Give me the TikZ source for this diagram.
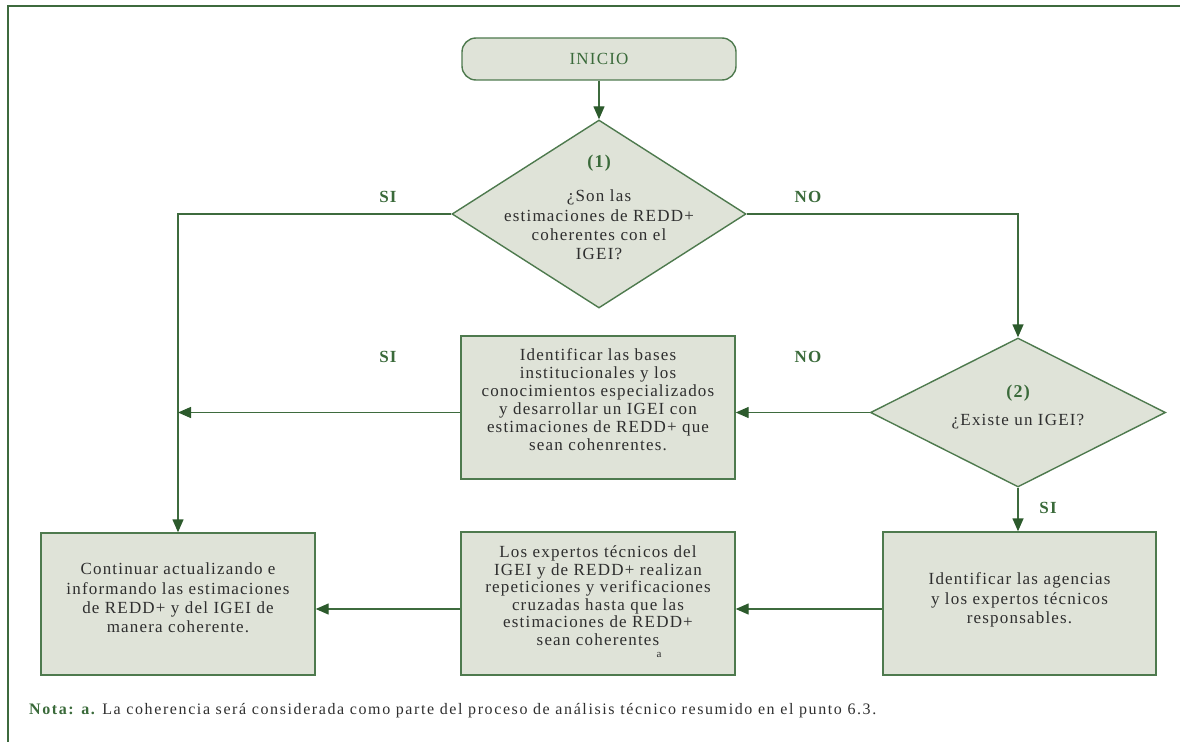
\documentclass[tikz,border=0pt]{standalone}
\usepackage{fontspec}
\setmainfont{Liberation Serif}[LetterSpace=7]
\usetikzlibrary{arrows.meta,shapes.geometric}
\definecolor{boxfill}{HTML}{DFE3D8}
\definecolor{boxline}{HTML}{4E7A4E}
\definecolor{conn}{HTML}{3E6B3E}
\definecolor{tipc}{HTML}{2C5A2C}
\definecolor{lab}{HTML}{3A6A3A}
\definecolor{txt}{HTML}{2E2E2E}
\definecolor{framec}{HTML}{3E6A3E}
\begin{document}
\begin{tikzpicture}[x=1bp,y=-1bp,
  procbox/.style={draw=boxline, fill=boxfill, line width=1.4bp, rectangle, inner sep=0pt, minimum width=274bp, minimum height=143bp},
  startbox/.style={draw=boxline, fill=boxfill, line width=1.4bp, rectangle, rounded corners=14bp, inner sep=0pt, minimum width=274bp, minimum height=42bp, text=lab, font=\fontsize{17bp}{19.4bp}\selectfont},
  dia/.style={draw=boxline, fill=boxfill, line width=1.4bp, diamond, inner sep=0pt},
  bodytxt/.style={text=txt, align=center, inner sep=0pt, font=\fontsize{17bp}{19.4bp}\selectfont},
  numtxt/.style={text=lab, inner sep=0pt, font=\fontsize{18bp}{20bp}\selectfont\bfseries},
  yesno/.style={text=lab, inner sep=0pt, font=\fontsize{17bp}{19bp}\selectfont\bfseries},
  arr/.style={draw=conn, line width=1.4bp, -{Triangle[length=13bp,width=11bp,color=tipc,fill=tipc]}},
  plain/.style={draw=conn, line width=1.4bp}
]
\useasboundingbox (0,0) rectangle (1180,742);
% frame
\draw[framec, line width=2.4bp] (8,742) -- (8,6) -- (1180,6);

% nodes
\node[startbox] (inicio) at (599,59) {INICIO};
\node[dia, minimum width=294bp, minimum height=188bp] (d1) at (599,214) {};
\node[numtxt] (d1num) at (599,163) {(1)};
\node[bodytxt] (d1txt) at (599,225) {¿Son las\\estimaciones de REDD+\\coherentes con el\\IGEI?};

\node[dia, minimum width=295bp, minimum height=149bp] (d2) at (1018,412.5) {};
\node[numtxt] (d2num) at (1018,393) {(2)};
\node[bodytxt] (d2txt) at (1018,422) {¿Existe un IGEI?};

\node[procbox] (b1) at (598,407.5) {};
\node[bodytxt, font=\fontsize{17bp}{18bp}\selectfont] (b1txt) at (598,400) {Identificar las bases\\institucionales y los\\conocimientos especializados\\y desarrollar un IGEI con\\estimaciones de REDD+ que\\sean cohenrentes.};

\node[procbox, minimum width=273bp] (b3) at (1019.5,603.5) {};
\node[bodytxt] (b3txt) at (1019.5,600) {Identificar las agencias\\y los expertos técnicos\\responsables.};

\node[procbox] (b2) at (598,603.5) {};
\node[bodytxt, font=\fontsize{17bp}{17.5bp}\selectfont] (b2txt) at (598,595.5) {Los expertos técnicos del\\IGEI y de REDD+ realizan\\repeticiones y verificaciones\\cruzadas hasta que las\\estimaciones de REDD+\\sean coherentes};
\node[bodytxt, font=\fontsize{11bp}{12bp}\selectfont] (b2a) at (659,655) {a};

\node[procbox, minimum height=142bp] (b4) at (178,604) {};
\node[bodytxt] (b4txt) at (178,598) {Continuar actualizando e\\informando las estimaciones\\de REDD+ y del IGEI de\\manera coherente.};

% labels
\node[yesno] (si1) at (388,197) {SI};
\node[yesno] (no1) at (808,197) {NO};
\node[yesno] (si2) at (388,357) {SI};
\node[yesno] (no2) at (808,357) {NO};
\node[yesno] (si3) at (1048,508) {SI};

% connectors
\coordinate (c3) at (1018,609);
\draw[arr] (inicio.south) -- (d1.north);
\draw[arr] (d1.west) -| (b4.north);
\draw[arr] (d1.east) -| (d2.north);
\draw[arr] (d2.west) -- (d2.west -| b1.east);
\draw[arr] (d2.west -| b1.west) -- (d2.west -| b4.north);
\draw[arr] (d2.south) -- (d2.south |- b3.north);
\draw[arr] (c3 -| b3.west) -- (c3 -| b2.east);
\draw[arr] (c3 -| b2.west) -- (c3 -| b4.east);

% note
\node[anchor=west, text=txt, inner sep=0pt, font=\fontsize{16bp}{18bp}\selectfont\addfontfeatures{LetterSpace=10}] (nota) at (29,711) {\textcolor{lab}{\bfseries Nota: a.} La coherencia será considerada como parte del proceso de análisis técnico resumido en el punto 6.3.};
\end{tikzpicture}
\end{document}
